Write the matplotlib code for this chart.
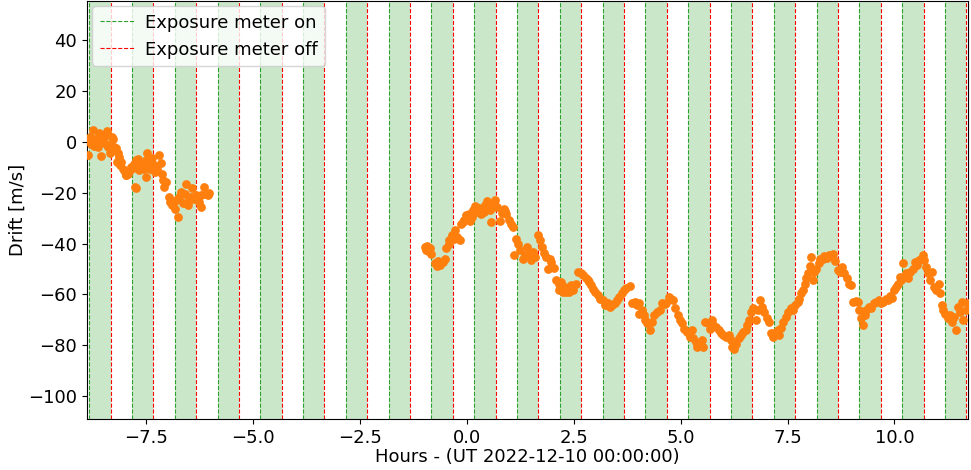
import matplotlib.pyplot as plt

# exposure meter switching times (hours from UT 2022-12-10 00:00)
meter_on = [-8.82, -7.82, -6.82, -5.82, -4.82, -3.82, -2.82, -1.82, -0.82, 0.18,
            1.18, 2.18, 3.18, 4.18, 5.18, 6.18, 7.18, 8.18, 9.18, 10.18, 11.18]
meter_off = [-8.32, -7.32, -6.32, -5.32, -4.32, -3.32, -2.32, -1.32, -0.32, 0.68,
             1.68, 2.68, 3.68, 4.68, 5.68, 6.68, 7.68, 8.68, 9.68, 10.68, 11.68]

# drift measurements, first block (evening)
hours_a = [-8.85, -8.81, -8.79, -8.77, -8.73, -8.70, -8.68, -8.66, -8.63, -8.61,
           -8.58, -8.56, -8.54, -8.50, -8.48, -8.46, -8.43, -8.40, -8.38, -8.34,
           -8.32, -8.29, -8.26, -8.24, -8.19, -8.16, -8.15, -8.12, -8.10, -8.07,
           -8.03, -7.99, -7.97, -7.95, -7.91, -7.87, -7.84, -7.80, -7.77, -7.76,
           -7.72, -7.72, -7.68, -7.65, -7.62, -7.59, -7.56, -7.54, -7.50, -7.49,
           -7.47, -7.44, -7.40, -7.37, -7.34, -7.30, -7.27, -7.24, -7.19, -7.15,
           -7.12, -7.10, -7.06, -7.02, -6.96, -6.92, -6.88, -6.84, -6.81, -6.78,
           -6.75, -6.71, -6.67, -6.63, -6.59, -6.55, -6.51, -6.48, -6.45, -6.42,
           -6.37, -6.32, -6.28, -6.25, -6.21, -6.20, -6.14, -6.11, -6.05, -6.02]
drift_a = [-5.0, 0.3, 2.0, -0.6, 4.6, -1.5, 1.3, -1.3, 0.5, -2.0,
           3.7, 1.0, -5.5, 0.0, 2.8, 2.4, -0.8, 4.5, -2.0, -4.3,
           -1.3, 2.0, 1.0, -2.0, -2.2, -7.9, -4.2, -6.0, -9.2, -7.9,
           -10.5, -11.8, -12.8, -13.1, -12.4, -11.1, -9.8, -10.3, -8.5, -17.7,
           -18.3, -7.2, -6.5, -11.0, -8.9, -10.0, -8.5, -10.5, -13.8, -7.2,
           -4.3, -9.2, -10.5, -8.0, -6.3, -9.2, -12.0, -10.5, -5.2, -8.4,
           -12.4, -15.1, -17.7, -15.7, -21.6, -23.6, -24.9, -23.8, -26.5, -22.9,
           -29.5, -21.6, -19.7, -24.2, -20.3, -16.4, -24.6, -22.7, -21.6, -18.3,
           -22.3, -21.0, -22.6, -23.8, -25.6, -21.0, -17.7, -20.3, -20.7, -19.9]

# second block (night)
hours_b = [-0.98, -0.95, -0.92, -0.89, -0.86, -0.82, -0.73, -0.69, -0.66, -0.63,
           -0.55, -0.50, -0.47, -0.42, -0.40, -0.34, -0.30, -0.26, -0.22, -0.16,
           -0.12, -0.09, -0.06, -0.01, 0.05, 0.09, 0.12, 0.15, 0.20, 0.23,
           0.26, 0.30, 0.33, 0.38, 0.41, 0.44, 0.48, 0.51, 0.54, 0.58,
           0.61, 0.64, 0.67, 0.72, 0.77, 0.82, 0.87, 0.90, 0.93, 0.98,
           1.04, 1.08, 1.12, 1.16, 1.20, 1.26, 1.32, 1.36, 1.42, 1.47,
           1.51, 1.55, 1.61, 1.67, 1.71, 1.77, 1.82, 1.86, 1.90, 1.94,
           1.98, 2.04, 2.10, 2.15, 2.17, 2.21, 2.25, 2.29, 2.33, 2.36,
           2.39, 2.45, 2.48, 2.55, 2.61, 2.67, 2.73, 2.79, 2.83, 2.87,
           2.91, 2.95, 3.01, 3.07, 3.12, 3.18, 3.24, 3.30, 3.36, 3.40,
           3.46, 3.51, 3.57, 3.64, 3.69, 3.73, 3.81, 3.87, 3.93, 3.98,
           4.03, 4.04, 4.10, 4.14, 4.18, 4.21, 4.28, 4.34, 4.39, 4.45,
           4.51, 4.57, 4.63, 4.67, 4.73, 4.78, 4.82, 4.88, 4.94, 4.99,
           5.04, 5.09, 5.15, 5.21, 5.27, 5.29, 5.35, 5.38, 5.44, 5.51,
           5.53, 5.58, 5.64, 5.68, 5.74, 5.77, 5.83, 5.90, 5.95, 6.00,
           6.07, 6.14, 6.18, 6.21, 6.26, 6.30, 6.36, 6.42, 6.46, 6.52,
           6.55, 6.61, 6.65, 6.70, 6.76, 6.81, 6.86, 6.91, 6.96, 7.02,
           7.06, 7.12, 7.17, 7.22, 7.27, 7.31, 7.35, 7.39, 7.46, 7.52,
           7.57, 7.63, 7.68, 7.74, 7.78, 7.82, 7.86, 7.90, 7.94, 7.97,
           8.03, 8.05, 8.09, 8.13, 8.17, 8.23, 8.27, 8.32, 8.36, 8.42,
           8.46, 8.52, 8.57, 8.62, 8.68, 8.73, 8.78, 8.83, 8.89, 8.93,
           8.99, 9.03, 9.09, 9.14, 9.18, 9.22, 9.26, 9.30, 9.34, 9.40,
           9.46, 9.51, 9.57, 9.63, 9.69, 9.74, 9.80, 9.84, 9.90, 9.94,
           10.00, 10.04, 10.08, 10.12, 10.16, 10.21, 10.26, 10.31, 10.37, 10.43,
           10.47, 10.52, 10.57, 10.62, 10.66, 10.70, 10.74, 10.78, 10.84, 10.88,
           10.93, 10.97, 11.03, 11.06, 11.11, 11.14, 11.19, 11.25, 11.30, 11.35,
           11.40, 11.44, 11.48, 11.52, 11.58, 11.61, 11.66, 11.71]
drift_b = [-41.3, -42.5, -41.0, -43.0, -41.9, -43.9, -47.6, -48.9, -47.0, -48.5,
           -47.2, -45.9, -41.9, -40.0, -38.7, -36.7, -38.0, -34.5, -37.4, -38.4,
           -32.1, -31.5, -30.5, -28.8, -28.4, -31.1, -29.5, -26.9, -25.3, -27.5,
           -27.1, -26.0, -28.2, -26.2, -27.5, -24.9, -23.2, -25.5, -26.9, -31.5,
           -25.5, -24.0, -22.9, -25.6, -31.1, -27.9, -26.2, -27.0, -28.2, -30.5,
           -32.1, -33.4, -44.6, -38.0, -40.0, -42.6, -45.9, -44.6, -41.5, -43.6,
           -46.5, -43.3, -45.2, -36.7, -38.7, -41.3, -43.5, -45.2, -49.8, -45.9,
           -47.2, -49.4, -54.4, -55.7, -58.3, -55.0, -59.0, -57.0, -59.0, -57.7,
           -59.0, -56.3, -58.3, -55.7, -51.1, -51.7, -52.4, -53.7, -54.5, -55.0,
           -56.3, -57.7, -59.0, -60.3, -61.6, -62.3, -64.2, -63.5, -65.1, -64.2,
           -63.5, -62.3, -60.9, -59.6, -58.3, -57.3, -56.7, -63.5, -62.9, -64.2,
           -67.5, -63.5, -66.2, -68.1, -70.1, -71.4, -73.8, -70.8, -68.1, -66.8,
           -66.2, -63.5, -63.8, -63.5, -60.9, -61.6, -62.3, -65.5, -68.1, -70.1,
           -71.4, -73.4, -74.7, -76.7, -74.0, -77.3, -78.6, -80.6, -79.5, -78.0,
           -80.6, -70.8, -71.4, -73.4, -70.1, -72.1, -72.7, -74.0, -75.3, -76.0,
           -76.9, -76.0, -78.0, -80.6, -81.6, -79.3, -77.3, -76.0, -74.7, -73.8,
           -72.1, -70.1, -66.8, -65.5, -70.1, -66.2, -62.3, -65.1, -66.8, -69.4,
           -70.8, -75.1, -76.7, -74.7, -73.8, -76.0, -73.0, -70.8, -68.8, -66.8,
           -65.5, -66.2, -64.2, -62.9, -61.6, -59.6, -58.3, -55.7, -53.7, -51.7,
           -48.9, -45.2, -54.4, -51.1, -49.8, -47.8, -46.2, -45.9, -44.9, -45.5,
           -44.6, -44.9, -44.2, -46.8, -50.2, -51.1, -49.2, -51.7, -53.7, -55.7,
           -56.3, -62.9, -62.5, -62.9, -66.2, -69.4, -72.1, -68.1, -66.2, -64.9,
           -65.5, -63.5, -62.9, -62.3, -63.5, -62.9, -61.6, -62.3, -60.7, -61.2,
           -58.3, -57.0, -55.7, -53.1, -54.4, -47.8, -51.7, -53.7, -51.1, -49.8,
           -47.2, -48.5, -46.5, -45.9, -44.6, -46.5, -49.2, -51.7, -54.4, -51.1,
           -57.0, -58.3, -55.7, -59.6, -64.2, -66.2, -67.5, -69.4, -68.1, -70.8,
           -68.8, -73.8, -64.9, -66.8, -62.9, -70.1, -66.2, -63.5]

fig, ax = plt.subplots(figsize=(9.71, 4.70), dpi=100)

# shade the intervals when the exposure meter is running
for t_on, t_off in zip(meter_on, meter_off):
  ax.axvspan(t_on, t_off, color='tab:green', alpha=0.25, lw=0)
for i, t in enumerate(meter_on):
  ax.axvline(t, color='tab:green', ls='--', lw=0.8,
             label='Exposure meter on' if i == 0 else None)
for i, t in enumerate(meter_off):
  ax.axvline(t, color='red', ls='--', lw=0.8,
             label='Exposure meter off' if i == 0 else None)

ax.scatter(hours_a + hours_b, drift_a + drift_b, s=28, color='tab:orange', zorder=3)

ax.set_xlim(-8.87, 11.72)
ax.set_ylim(-109, 55.5)
ax.set_xlabel('Hours - (UT 2022-12-10 00:00:00)', fontsize=13, labelpad=1)
ax.set_ylabel('Drift [m/s]', fontsize=13, labelpad=1)
ax.tick_params(labelsize=13)
ax.legend(loc='upper left', fontsize=13, borderaxespad=0.3, handlelength=1.9,
          handletextpad=0.6)

plt.subplots_adjust(left=0.0896, right=0.997, bottom=0.1085, top=0.998)
plt.savefig('out.png')
